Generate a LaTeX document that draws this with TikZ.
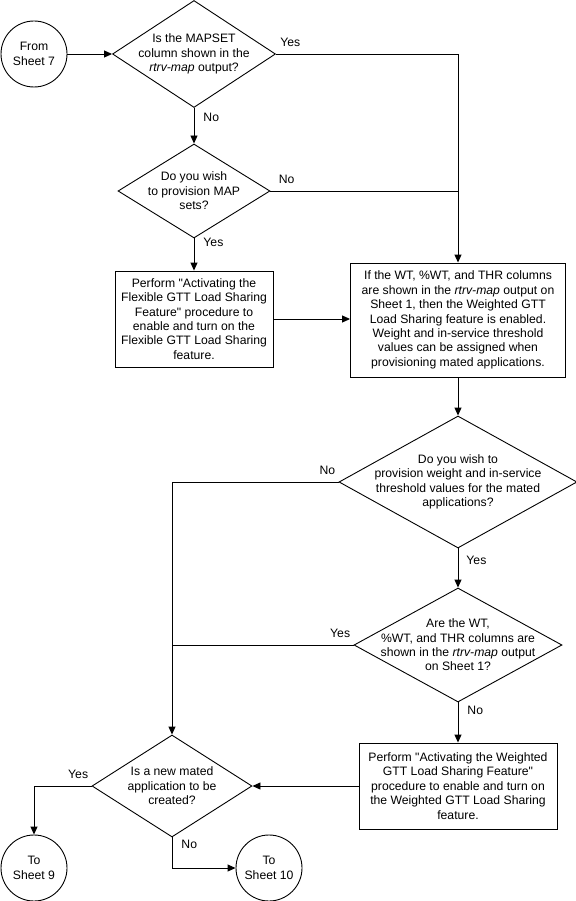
\documentclass[tikz,border=0pt]{standalone}
\usepackage{fontspec}
\setmainfont{Liberation Sans}
\usetikzlibrary{shapes.geometric, arrows.meta, positioning}

\begin{document}
\begin{tikzpicture}[x=1pt, y=-1pt, line width=0.9pt, font=\fontsize{12.2}{14.4}\selectfont,
    >={Triangle[length=8pt, width=7pt]},
    sheet/.style = {draw, circle, minimum size=66pt, inner sep=0pt, align=center},
    query/.style = {draw, diamond, inner sep=-100pt, align=center},
    task/.style = {draw, rectangle, inner sep=0pt, align=center},
    lbl/.style = {inner sep=0pt}]
    \useasboundingbox (0,0) rectangle (575,901);

    % Disegna i nodi del diagramma
    \node[sheet] (c7) at (34,54) {From\\Sheet 7};
    \node[query, minimum width=163pt, minimum height=107pt] (q1) [node distance=160pt, right of = c7] {Is the MAPSET\\column shown in the\\\textit{rtrv-map} output?};
    \node[query, minimum width=152pt, minimum height=94pt] (q2) [node distance=137pt, below of = q1] {Do you wish\\to provision MAP\\sets?};
    \node[task, minimum width=158pt, minimum height=96pt] (b1) [node distance=128pt, below of = q2] {Perform \textquotedbl Activating the\\Flexible GTT Load Sharing\\Feature\textquotedbl{} procedure to\\enable and turn on the\\Flexible GTT Load Sharing\\feature.};
    \node[task, minimum width=215pt, minimum height=114pt] (b2) at (458,320) {If the WT, \%WT, and THR columns\\are shown in the \textit{rtrv-map} output on\\Sheet 1, then the Weighted GTT\\Load Sharing feature is enabled.\\Weight and in-service threshold\\values can be assigned when\\provisioning mated applications.};
    \node[query, minimum width=238pt, minimum height=132pt] (q3) [node distance=162pt, below of = b2] {Do you wish to\\provision weight and in-service\\threshold values for the mated\\applications?};
    \node[query, minimum width=208pt, minimum height=114pt] (q4) [node distance=163pt, below of = q3] {Are the WT,\\\%WT, and THR columns are\\shown in the \textit{rtrv-map} output\\on Sheet 1?};
    \node[task, minimum width=198pt, minimum height=86pt] (b3) [node distance=141pt, below of = q4] {Perform \textquotedbl Activating the Weighted\\GTT Load Sharing Feature\textquotedbl\\procedure to enable and turn on\\the Weighted GTT Load Sharing\\feature.};
    \node[query, minimum width=160pt, minimum height=102pt] (q5) [node distance=286pt, left of = b3] {Is a new mated\\application to be\\created?};
    \node[sheet] (c9) at (34,868) {To\\Sheet 9};
    \node[sheet] (c10) at (269,868) {To\\Sheet 10};

    % Collegamenti
    \draw[->] (c7) -- (q1.west);
    \draw[->] (q1.south) -- node[lbl, pos=0.27, anchor=west, xshift=9pt] {No} (q2.north);
    \draw[->] (q1.east) -| node[lbl, pos=0, anchor=south west, xshift=4pt, yshift=7pt] {Yes} (b2.north);
    \draw (q2.east) -- node[lbl, pos=0, anchor=south west, xshift=8pt, yshift=7pt] {No} (q2.east -| b2.north);
    \draw[->] (q2.south) -- node[lbl, pos=0.12, anchor=west, xshift=9pt] {Yes} (b1.north);
    \draw[->] (b1.east) -- (b1.east -| b2.west);
    \draw[->] (b2.south) -- (q3.north);
    \draw[->] (q3.west) -| node[lbl, pos=0, anchor=south east, xshift=-3pt, yshift=7pt] {No} (q5.north);
    \draw[->] (q3.south) -- node[lbl, pos=0.3, anchor=west, xshift=8pt] {Yes} (q4.north);
    \draw (q4.west) -- node[lbl, pos=0, anchor=south east, xshift=-3pt, yshift=7pt] {Yes} (q4.west -| q5.north);
    \draw[->] (q4.south) -- node[lbl, pos=0.2, anchor=west, xshift=9pt] {No} (b3.north);
    \draw[->] (b3.west) -- (q5.east);
    \draw[->] (q5.west) -| node[lbl, pos=0, anchor=south east, xshift=-3pt, yshift=7pt] {Yes} (c9.north);
    \draw[->] (q5.south) |- node[lbl, pos=0.11, anchor=west, xshift=9pt] {No} (c10.west);
\end{tikzpicture}
\end{document}
